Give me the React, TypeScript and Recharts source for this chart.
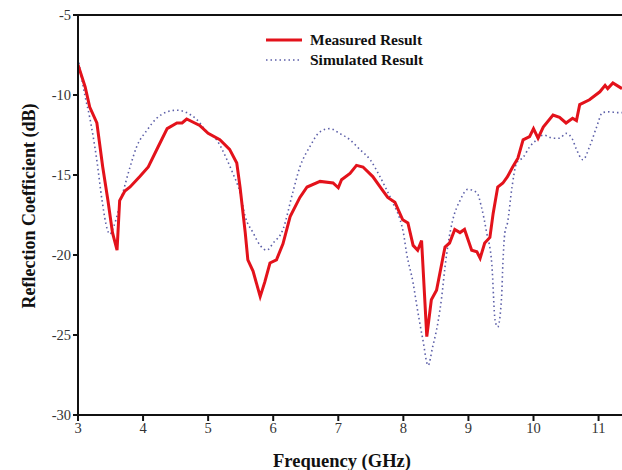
import React from 'react'
import { LineChart, Line, XAxis, YAxis, Legend, ReferenceLine } from 'recharts'

// frequency (GHz) / reflection coefficient (dB) pairs
const MEASURED_F = [
  3.0, 3.11, 3.18, 3.29, 3.38, 3.46, 3.53, 3.6, 3.64, 3.72, 3.8, 3.95, 4.08, 4.23, 4.37, 4.52, 4.6, 4.67,
  4.87, 5.0, 5.18, 5.33, 5.44, 5.49, 5.57, 5.61, 5.69, 5.8, 5.87, 5.95, 6.05, 6.15, 6.26, 6.41, 6.52,
  6.72, 6.92, 7.0, 7.05, 7.18, 7.28, 7.38, 7.53, 7.67, 7.76, 7.87, 7.99, 8.07, 8.15, 8.22, 8.28, 8.36,
  8.43, 8.51, 8.64, 8.71, 8.79, 8.87, 8.94, 9.05, 9.13, 9.18, 9.25, 9.33, 9.38, 9.45, 9.53, 9.6, 9.68,
  9.76, 9.84, 9.94, 10.0, 10.07, 10.15, 10.3, 10.4, 10.5, 10.6, 10.66, 10.71, 10.86, 11.02, 11.1, 11.14,
  11.22, 11.36,
]
const MEASURED_DB = [
  -8.1, -9.5, -10.75, -11.75, -14.5, -16.6, -18.6, -19.7, -16.6, -16.0, -15.75, -15.1, -14.5, -13.25,
  -12.1, -11.75, -11.75, -11.5, -11.9, -12.4, -12.8, -13.4, -14.25, -15.75, -18.6, -20.3, -21.0, -22.6,
  -21.7, -20.5, -20.3, -19.3, -17.6, -16.4, -15.75, -15.4, -15.5, -15.8, -15.3, -14.9, -14.4, -14.5,
  -15.1, -15.9, -16.4, -16.7, -17.8, -18.0, -19.4, -19.7, -19.1, -25.1, -22.8, -22.2, -19.5, -19.25,
  -18.4, -18.6, -18.4, -19.7, -19.8, -20.2, -19.25, -18.9, -17.4, -15.75, -15.5, -15.1, -14.5, -13.95,
  -12.8, -12.6, -12.1, -12.7, -12.0, -11.25, -11.4, -11.75, -11.45, -11.6, -10.6, -10.3, -9.8, -9.4,
  -9.6, -9.25, -9.6,
]

const SIMULATED_F = [
  3.0, 3.11, 3.18, 3.29, 3.37, 3.45, 3.49, 3.55, 3.69, 3.8, 3.9, 4.06, 4.21, 4.37, 4.52, 4.67, 4.83,
  4.98, 5.13, 5.29, 5.38, 5.49, 5.57, 5.69, 5.8, 5.9, 6.0, 6.15, 6.3, 6.41, 6.56, 6.72, 6.87, 7.02,
  7.18, 7.33, 7.49, 7.64, 7.74, 7.84, 7.95, 8.0, 8.05, 8.15, 8.21, 8.3, 8.38, 8.45, 8.53, 8.59, 8.64,
  8.69, 8.76, 8.87, 8.99, 9.13, 9.2, 9.28, 9.36, 9.41, 9.45, 9.51, 9.53, 9.56, 9.6, 9.67, 9.74, 9.84,
  9.94, 10.05, 10.15, 10.3, 10.4, 10.5, 10.59, 10.66, 10.76, 10.86, 10.97, 11.06, 11.17, 11.28, 11.36,
]
const SIMULATED_DB = [
  -7.7, -10.1, -11.4, -14.1, -16.6, -18.4, -18.7, -18.2, -16.1, -14.5, -13.25, -12.2, -11.45, -11.05,
  -10.95, -11.1, -11.55, -12.3, -12.8, -14.05, -14.9, -16.1, -17.6, -18.6, -19.4, -19.7, -19.25, -18.4,
  -16.1, -14.5, -13.25, -12.3, -12.1, -12.4, -12.8, -13.4, -14.05, -15.1, -15.9, -16.75, -17.8, -18.6,
  -19.9, -21.75, -23.25, -25.3, -26.9, -25.75, -24.25, -22.6, -20.75, -19.25, -17.8, -16.6, -15.9,
  -16.1, -17.0, -18.6, -20.6, -24.1, -24.5, -22.6, -20.5, -18.6, -18.0, -15.75, -14.25, -13.9, -13.25,
  -12.8, -12.5, -12.7, -12.7, -12.4, -12.7, -13.4, -14.05, -13.25, -12.0, -11.1, -11.05, -11.1, -11.1,
]

const X_TICKS = [3, 4, 5, 6, 7, 8, 9, 10, 11]
const Y_TICKS = [-30, -25, -20, -15, -10, -5]

const SERIES = [
  { name: 'Measured Result', color: '#e3121b', width: 3, dash: undefined as string | undefined },
  { name: 'Simulated Result', color: '#5c5fa8', width: 1.6, dash: '1.5 3' },
]

const measured = MEASURED_F.map((f, i) => ({ f, db: MEASURED_DB[i] }))
const simulated = SIMULATED_F.map((f, i) => ({ f, db: SIMULATED_DB[i] }))

const SERIF = '"Liberation Serif", "Times New Roman", serif'

const renderLegend = () => (
  <div style={{ fontFamily: SERIF, fontWeight: 'bold', fontSize: 15.5, color: '#111' }}>
    {SERIES.map((s) => (
      <div key={s.name} style={{ display: 'flex', alignItems: 'center', height: 20 }}>
        <svg width={42} height={10} style={{ marginRight: 4 }}>
          <line x1={2} y1={5} x2={38} y2={5} stroke={s.color} strokeWidth={s.width} strokeDasharray={s.dash} />
        </svg>
        <span>{s.name}</span>
      </div>
    ))}
  </div>
)

export default function App() {
  return (
    <div style={{ position: 'absolute', left: 0, top: 0, background: '#fff' }}>
      <LineChart width={622} height={470} margin={{ top: 15, right: 0, bottom: 0, left: 0 }}>
        <XAxis
          type="number"
          dataKey="f"
          domain={[3, 11.36]}
          ticks={X_TICKS}
          allowDataOverflow
          height={55}
          stroke="#111"
          strokeWidth={2}
          tickSize={6}
          tick={{ fill: '#333', fontFamily: SERIF, fontSize: 14.5 }}
          label={({ viewBox }: any) => (
            <text
              x={viewBox.x + viewBox.width / 2 - 8}
              y={viewBox.y + 52}
              textAnchor="middle"
              fontFamily={SERIF}
              fontWeight="bold"
              fontSize={18.5}
              fill="#111"
            >
              Frequency (GHz)
            </text>
          )}
        />
        <YAxis
          type="number"
          dataKey="db"
          domain={[-30, -5]}
          ticks={Y_TICKS}
          allowDataOverflow
          width={78}
          stroke="#111"
          strokeWidth={2}
          tickSize={5}
          tick={{ fill: '#333', fontFamily: SERIF, fontSize: 14.5 }}
          label={({ viewBox }: any) => {
            const cy = viewBox.y + viewBox.height / 2 - 9
            return (
              <text
                x={29}
                y={cy}
                transform={`rotate(-90 29 ${cy})`}
                textAnchor="middle"
                dominantBaseline="central"
                fontFamily={SERIF}
                fontWeight="bold"
                fontSize={18}
                fill="#111"
              >
                Reflection Coefficient (dB)
              </text>
            )
          }}
        />
        <ReferenceLine y={-5} stroke="#111" strokeWidth={2} />
        <Legend
          content={renderLegend}
          layout="horizontal"
          verticalAlign="middle"
          align="center"
          wrapperStyle={{ position: 'absolute', left: 264, top: 30, width: 'auto', height: 'auto' }}
        />
        <Line
          data={simulated}
          dataKey="db"
          name={SERIES[1].name}
          type="monotone"
          stroke={SERIES[1].color}
          strokeWidth={SERIES[1].width}
          strokeDasharray={SERIES[1].dash}
          dot={false}
          activeDot={false}
          isAnimationActive={false}
        />
        <Line
          data={measured}
          dataKey="db"
          name={SERIES[0].name}
          type="linear"
          stroke={SERIES[0].color}
          strokeWidth={SERIES[0].width}
          dot={false}
          activeDot={false}
          isAnimationActive={false}
        />
      </LineChart>
    </div>
  )
}
